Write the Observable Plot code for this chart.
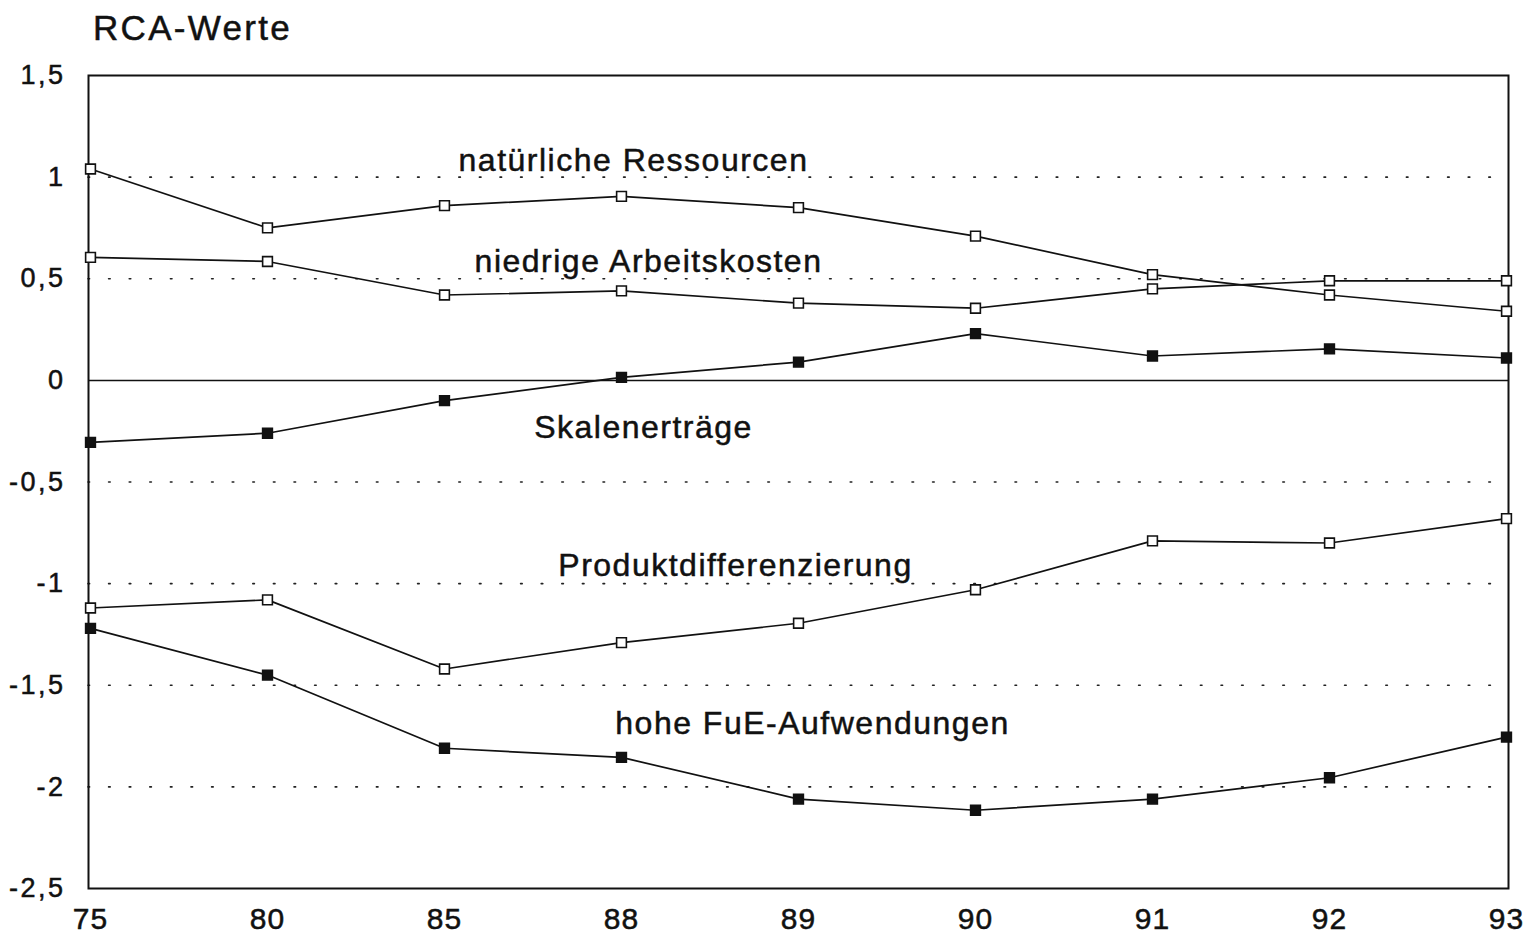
<!DOCTYPE html>
<html>
<head>
<meta charset="utf-8">
<script src="https://cdn.jsdelivr.net/npm/d3@7"></script>
<script src="https://cdn.jsdelivr.net/npm/@observablehq/plot@0.6"></script>
<style>
  html, body { margin: 0; padding: 0; background: #fff; }
  #title { height: 55px; box-sizing: border-box; padding: 12px 0 0 93px; font: 35px/32px "Liberation Sans", Arial, sans-serif; letter-spacing: 2.3px; color: #111; -webkit-text-stroke: 0.5px #111; }
  svg text { stroke: #111; stroke-width: 0.5px; }
  g[aria-label="text"] text { letter-spacing: 1.5px; }
  g[aria-label="y-axis tick label"] text { letter-spacing: 2.5px; }
  g[aria-label="x-axis tick label"] text { letter-spacing: 1px; }
</style>
</head>
<body>
<div id="title">RCA-Werte</div>
<div id="chart"></div>
<script>
const years = ["75", "80", "85", "88", "89", "90", "91", "92", "93"];
const seriesNames = ["natürliche Ressourcen", "niedrige Arbeitskosten", "Skalenerträge", "Produktdifferenzierung", "hohe FuE-Aufwendungen"];
const seriesFilled = [false, false, true, false, true];
const natuerlicheRessourcen = [1.04, 0.75, 0.86, 0.905, 0.85, 0.71, 0.52, 0.42, 0.34];
const niedrigeArbeitskosten = [0.605, 0.585, 0.42, 0.44, 0.38, 0.355, 0.45, 0.49, 0.49];
const skalenertraege = [-0.305, -0.26, -0.10, 0.015, 0.09, 0.23, 0.12, 0.155, 0.11];
const produktdifferenzierung = [-1.12, -1.08, -1.42, -1.29, -1.195, -1.03, -0.79, -0.80, -0.68];
const hoheFuE = [-1.22, -1.45, -1.81, -1.855, -2.06, -2.115, -2.06, -1.955, -1.755];
const seriesValues = [natuerlicheRessourcen, niedrigeArbeitskosten, skalenertraege, produktdifferenzierung, hoheFuE];

const yTicks = [1.5, 1, 0.5, 0, -0.5, -1, -1.5, -2, -2.5];
const gridValues = [1, 0.5, -0.5, -1, -1.5, -2];

// in-chart labels anchored in data terms
const labelText = seriesNames;
const labelYear = ["88", "88", "88", "88", "88"];
const labelValue = [1.082, 0.585, -0.231, -0.91, -1.69];
const labelDx = [12, 27, 22, 114, 191];

const data = [];
seriesNames.forEach((name, i) => {
  years.forEach((yr, j) => {
    data.push({series: name, year: yr, value: seriesValues[i][j], filled: seriesFilled[i]});
  });
});

const fmt = d => String(d).replace(".", ",");
const font = "Liberation Sans, Arial, sans-serif";

const labelMarks = labelText.map((t, i) =>
  Plot.text([{text: t, year: labelYear[i], value: labelValue[i]}],
    {x: "year", y: "value", text: "text", dx: labelDx[i], fontSize: 32, fill: "#111", textAnchor: "middle"})
);

const chart = Plot.plot({
  width: 1528,
  height: 880,
  marginTop: 20,
  marginBottom: 47,
  marginLeft: 88,
  marginRight: 20,
  style: {fontFamily: font, color: "#111", background: "#fff"},
  x: {type: "point", domain: years, padding: 0},
  y: {domain: [-2.5, 1.5]},
  marks: [
    Plot.ruleY(gridValues, {stroke: "#222", strokeWidth: 1.6, strokeDasharray: "1.6,19", strokeLinecap: "round"}),
    Plot.ruleY([0], {stroke: "#111", strokeWidth: 1.5}),
    Plot.frame({stroke: "#111", strokeWidth: 2}),
    Plot.axisY({ticks: yTicks, tickFormat: fmt, tickSize: 0, tickPadding: 23, fontSize: 27, label: null}),
    Plot.axisX({tickSize: 0, tickPadding: 19, fontSize: 30, label: null}),
    Plot.line(data, {x: "year", y: "value", z: "series", stroke: "#111", strokeWidth: 1.7}),
    Plot.dot(data, {x: "year", y: "value", symbol: "square", r: 5.5, stroke: "#111", strokeWidth: 1.6, fill: d => d.filled ? "#111" : "#fff"}),
    ...labelMarks
  ]
});
document.getElementById("chart").appendChild(chart);
</script>
</body>
</html>
